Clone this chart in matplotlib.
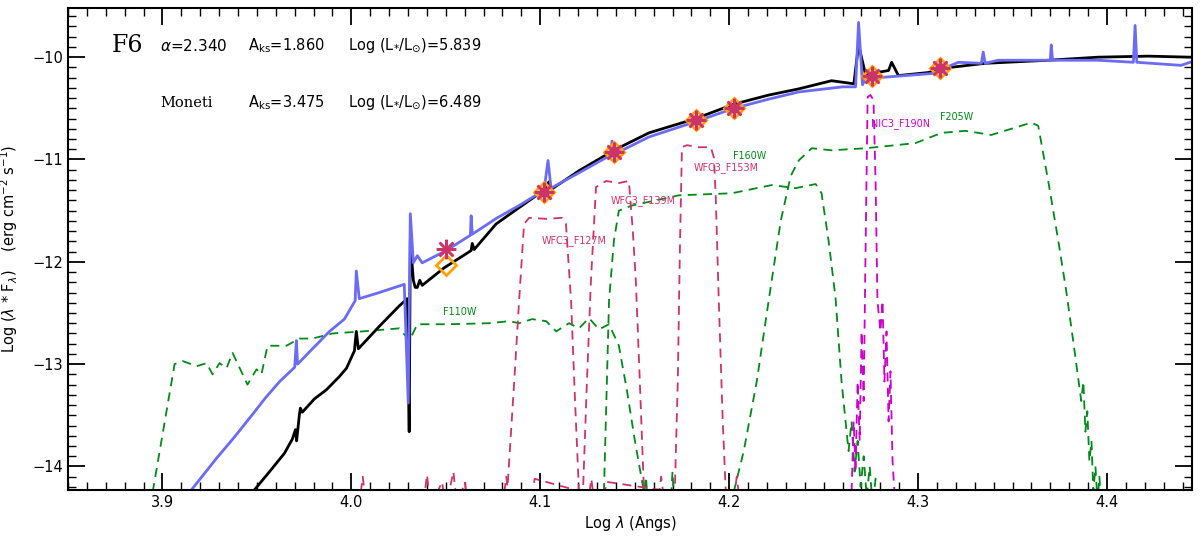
import numpy as np
import matplotlib
matplotlib.use("Agg")
import matplotlib.pyplot as plt
from matplotlib.ticker import MultipleLocator

# model spectrum, alpha extinction law (black)
sed_a_lam = [3.9477, 3.9567, 3.9646, 3.9688, 3.9704, 3.9710, 3.9725, 3.9730, 3.9740,
             3.9804, 3.9868, 3.9937, 3.9974, 4.0016, 4.0026, 4.0037, 4.0148, 4.0254,
             4.0296, 4.0306, 4.0312, 4.0328, 4.0338, 4.0349, 4.0362, 4.0375, 4.0490,
             4.0634, 4.0640, 4.0650, 4.0766, 4.0888, 4.1020, 4.1045, 4.1060, 4.1205,
             4.1390, 4.1575, 4.1823, 4.2024, 4.2210, 4.2368, 4.2542, 4.2660, 4.2685,
             4.2722, 4.2844, 4.2860, 4.2896, 4.3055, 4.3124, 4.3356, 4.3690, 4.3953,
             4.4218, 4.4440]
sed_a_flux = [-14.25, -14.05, -13.87, -13.73, -13.64, -13.75, -13.49, -13.43, -13.47,
              -13.34, -13.25, -13.12, -13.04, -12.87, -12.68, -12.85, -12.63, -12.43,
              -12.36, -13.66, -11.79, -12.18, -12.25, -12.25, -12.18, -12.23, -12.06,
              -11.89, -11.82, -11.88, -11.63, -11.47, -11.30, -11.22, -11.29, -11.11,
              -10.91, -10.74, -10.60, -10.46, -10.37, -10.31, -10.23, -10.26, -9.88,
              -10.17, -10.13, -10.05, -10.18, -10.15, -10.11, -10.06, -10.03, -10.00,
              -9.99, -10.00]

# model spectrum, Moneti extinction law (blue)
sed_m_lam = [3.9144, 3.9286, 3.9382, 3.9477, 3.9545, 3.9620, 3.9700, 3.9709, 3.9715,
             3.9794, 3.9884, 3.9963, 4.0020, 4.0026, 4.0042, 4.0148, 4.0280, 4.0301,
             4.0312, 4.0328, 4.0349, 4.0375, 4.0502, 4.0630, 4.0634, 4.0640, 4.0772,
             4.0888, 4.1020, 4.1041, 4.1057, 4.1205, 4.1370, 4.1380, 4.1390, 4.1575,
             4.1823, 4.2024, 4.2210, 4.2368, 4.2600, 4.2669, 4.2685, 4.2706, 4.2722,
             4.3071, 4.3214, 4.3335, 4.3345, 4.3355, 4.3425, 4.3700, 4.3705, 4.3712,
             4.3953, 4.4140, 4.4149, 4.4158, 4.4392, 4.4440]
sed_m_flux = [-14.25, -13.92, -13.71, -13.49, -13.33, -13.17, -13.03, -12.77, -13.00,
              -12.85, -12.68, -12.56, -12.38, -12.09, -12.36, -12.30, -12.22, -13.38,
              -11.53, -12.01, -11.94, -12.01, -11.89, -11.74, -11.55, -11.73, -11.57,
              -11.45, -11.30, -11.01, -11.28, -11.13, -10.96, -10.82, -10.95, -10.78,
              -10.63, -10.50, -10.41, -10.34, -10.29, -10.29, -9.66, -10.27, -10.21,
              -10.16, -10.05, -10.06, -9.95, -10.06, -10.03, -10.03, -9.88, -10.03,
              -10.03, -10.05, -9.69, -10.05, -10.08, -10.05]

# filter curves (scaled transmission)
f110w_lam = [3.8948, 3.9064, 3.9107, 3.9181, 3.9234, 3.9265, 3.9302, 3.9339, 3.9371,
             3.9450, 3.9498, 3.9524, 3.9556, 3.9656, 3.9725, 3.9794, 3.9900, 4.0058,
             4.0254, 4.0307, 4.0349, 4.0518, 4.0729, 4.0835, 4.0888, 4.0957, 4.1031,
             4.1084, 4.1152, 4.1205, 4.1258, 4.1311, 4.1364, 4.1416, 4.1459, 4.1501,
             4.1549, 4.1560, 4.1570, 4.1690, 4.1700, 4.1710]
f110w_flux = [-14.25, -13.00, -12.97, -13.02, -12.99, -13.10, -12.99, -13.04, -12.89,
              -13.20, -13.05, -13.10, -12.82, -12.82, -12.75, -12.75, -12.70, -12.68,
              -12.65, -12.77, -12.61, -12.61, -12.60, -12.58, -12.60, -12.56, -12.58,
              -12.68, -12.60, -12.65, -12.55, -12.66, -12.61, -12.82, -13.26, -13.75,
              -14.25, -14.10, -14.40, -14.40, -14.05, -14.40]

f127m_lam = [4.0040, 4.0060, 4.0080, 4.0380, 4.0400, 4.0420, 4.0480, 4.0500, 4.0540,
             4.0560, 4.0600, 4.0620, 4.0825, 4.0862, 4.0888, 4.0914, 4.0941, 4.1031,
             4.1115, 4.1136, 4.1163, 4.1184, 4.1205]
f127m_flux = [-14.40, -14.10, -14.40, -14.40, -14.08, -14.40, -14.15, -14.40, -14.05,
              -14.40, -14.15, -14.40, -14.25, -13.17, -12.38, -11.63, -11.57, -11.58,
              -11.57, -11.63, -12.38, -13.36, -14.25]

f139m_lam = [4.0800, 4.0820, 4.0840, 4.0950, 4.0970, 4.1226, 4.1247, 4.1268, 4.1295,
             4.1348, 4.1416, 4.1469, 4.1490, 4.1506, 4.1527, 4.1549, 4.1620, 4.1640,
             4.1660]
f139m_flux = [-14.40, -14.10, -14.40, -14.40, -14.12, -14.25, -13.17, -12.19, -11.27,
              -11.21, -11.23, -11.21, -11.70, -12.19, -13.17, -14.25, -14.40, -14.10,
              -14.40]

f153m_lam = [4.1250, 4.1270, 4.1290, 4.1330, 4.1350, 4.1712, 4.1728, 4.1739, 4.1750,
             4.1776, 4.1839, 4.1903, 4.1919, 4.1929, 4.1945, 4.1966, 4.1982, 4.2020,
             4.2040, 4.2060, 4.2080]
f153m_flux = [-14.40, -14.12, -14.40, -14.40, -14.15, -14.25, -13.17, -11.89, -10.88,
              -10.86, -10.88, -10.88, -10.98, -11.37, -12.38, -13.56, -14.25, -14.40,
              -14.10, -14.40, -14.18]

f160w_lam = [4.1337, 4.1364, 4.1390, 4.1416, 4.1485, 4.1734, 4.2014, 4.2225, 4.2352,
             4.2458, 4.2489, 4.2526, 4.2563, 4.2595, 4.2632, 4.2648, 4.2664, 4.2680,
             4.2696, 4.2712, 4.2728, 4.2744, 4.2760, 4.2776]
f160w_flux = [-14.25, -12.38, -11.79, -11.50, -11.45, -11.35, -11.33, -11.25, -11.28,
              -11.24, -11.33, -11.79, -12.35, -13.17, -13.85, -13.56, -14.05, -13.75,
              -14.20, -13.90, -14.30, -14.00, -14.40, -14.10]

f205w_lam = [4.2024, 4.2077, 4.2146, 4.2209, 4.2273, 4.2326, 4.2368, 4.2437, 4.2542,
             4.2722, 4.2986, 4.3124, 4.3250, 4.3388, 4.3599, 4.3636, 4.3689, 4.3742,
             4.3784, 4.3821, 4.3864, 4.3875, 4.3886, 4.3896, 4.3907, 4.3918, 4.3928,
             4.3939, 4.3950, 4.3960, 4.3970]
f205w_flux = [-14.25, -13.85, -13.17, -12.38, -11.60, -11.16, -11.01, -10.89, -10.91,
              -10.89, -10.84, -10.74, -10.72, -10.76, -10.64, -10.67, -11.21, -11.79,
              -12.28, -12.77, -13.36, -13.17, -13.66, -13.46, -13.95, -13.75, -14.25,
              -14.00, -14.35, -14.10, -14.40]

f190n_lam = [4.2648, 4.2659, 4.2669, 4.2680, 4.2691, 4.2701, 4.2712, 4.2722, 4.2733,
             4.2748, 4.2764, 4.2775, 4.2785, 4.2801, 4.2812, 4.2822, 4.2833, 4.2844,
             4.2854, 4.2865, 4.2875]
f190n_flux = [-14.25, -13.56, -14.05, -13.17, -13.75, -12.68, -13.36, -11.89, -10.39,
              -10.37, -10.42, -11.21, -12.38, -12.68, -12.38, -13.17, -12.68, -13.56,
              -13.07, -13.95, -14.25]

# photometry
phot_lam = [4.0502, 4.1020, 4.1390, 4.1823, 4.2024, 4.2754, 4.3118]
phot_obs = [-11.87, -11.32, -10.93, -10.61, -10.50, -10.18, -10.11]
phot_mod = [-12.03, -11.32, -10.93, -10.61, -10.50, -10.18, -10.11]

green = "#00891a"
crimson = "#cc3366"
magenta = "#cc00cc"
blue = "#6b6bf5"
orange = "#ffa000"

fig = plt.figure(figsize=(12, 5.37), dpi=100)
ax = fig.add_axes([0.0567, 0.0875, 0.9366, 0.8975])

dash = (0, (5, 3.5))
for lam, flux, col in [(f110w_lam, f110w_flux, green), (f160w_lam, f160w_flux, green),
                       (f205w_lam, f205w_flux, green), (f127m_lam, f127m_flux, crimson),
                       (f139m_lam, f139m_flux, crimson), (f153m_lam, f153m_flux, crimson),
                       (f190n_lam, f190n_flux, magenta)]:
    ax.plot(lam, flux, color=col, lw=1.3, ls=dash)

ax.plot(sed_a_lam, sed_a_flux, color="black", lw=2.0)
ax.plot(sed_m_lam, sed_m_flux, color=blue, lw=2.0)

ax.plot(phot_lam, phot_mod, ls="none", marker="D", ms=10, mfc="none", mec=orange, mew=2)
ax.plot(phot_lam, phot_obs, ls="none", marker=(8, 2, 0), ms=14, mec=crimson, mew=1.8)
ax.plot(phot_lam[1:], phot_obs[1:], ls="none", marker="D", ms=6, mfc=crimson, mec=crimson)

lab = dict(fontsize=6.9, ha="center", va="center")
ax.text(4.0576, -12.49, "F110W", color=green, **lab)
ax.text(4.1179, -11.79, "WFC3_F127M", color=crimson, **lab)
ax.text(4.1543, -11.40, "WFC3_F139M", color=crimson, **lab)
ax.text(4.1982, -11.08, "WFC3_F153M", color=crimson, **lab)
ax.text(4.2109, -10.97, "F160W", color=green, **lab)
ax.text(4.2907, -10.65, "NIC3_F190N", color=magenta, **lab)
ax.text(4.3203, -10.58, "F205W", color=green, **lab)

tr = ax.transAxes
ax.text(0.0525, 0.923, "F6", transform=tr, fontsize=17, family="DejaVu Serif",
        ha="center", va="center")
ax.text(0.082, 0.921, r"$\alpha$=2.340", transform=tr, fontsize=11, va="center")
ax.text(0.160, 0.921, r"A$_{\rm ks}$=1.860", transform=tr, fontsize=10.5, va="center")
ax.text(0.249, 0.921, r"Log (L$_{*}$/L$_{\odot}$)=5.839", transform=tr, fontsize=10.5,
        va="center")
ax.text(0.082, 0.803, "Moneti", transform=tr, fontsize=10.5, family="DejaVu Serif",
        va="center")
ax.text(0.160, 0.803, r"A$_{\rm ks}$=3.475", transform=tr, fontsize=10.5, va="center")
ax.text(0.249, 0.803, r"Log (L$_{*}$/L$_{\odot}$)=6.489", transform=tr, fontsize=10.5,
        va="center")

ax.set_xlim(3.85, 4.445)
ax.set_ylim(-14.23, -9.52)
ax.xaxis.set_major_locator(MultipleLocator(0.1))
ax.xaxis.set_minor_locator(MultipleLocator(0.01))
ax.yaxis.set_major_locator(MultipleLocator(1))
ax.yaxis.set_minor_locator(MultipleLocator(0.1))
ax.xaxis.set_major_formatter(matplotlib.ticker.FormatStrFormatter("%.1f"))
ax.tick_params(which="both", direction="in", top=True, right=True, labelsize=10.5)
ax.tick_params(which="major", length=12, width=1.3)
ax.tick_params(which="minor", length=6, width=1.0)
for s in ax.spines.values():
    s.set_linewidth(1.5)

ax.set_xlabel(r"Log $\lambda$ (Angs)", fontsize=10.5, labelpad=3)
ax.set_ylabel(r"Log ($\lambda$ * F$_{\lambda}$)    (erg cm$^{-2}$ s$^{-1}$)", fontsize=10.5)
ax.yaxis.set_label_coords(-0.043, 0.5)

fig.savefig("out.png", dpi=100)
